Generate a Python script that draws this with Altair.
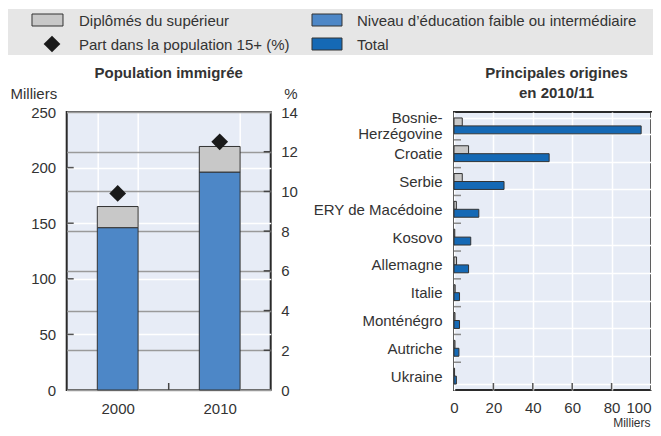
import altair as alt
import pandas as pd

# ---------------- data ----------------
years = ["2000", "2010"]
low_edu = [146, 196]          # Niveau d'éducation faible ou intermédiaire (milliers)
tertiary = [19, 23]           # Diplômés du supérieur (milliers, empilé au-dessus)
share_pct = [9.9, 12.5]       # Part dans la population 15+ (%)

countries = ["Bosnie-Herzégovine", "Croatie", "Serbie", "ERY de Macédoine", "Kosovo",
             "Allemagne", "Italie", "Monténégro", "Autriche", "Ukraine"]
tertiary_c = [4.2, 7.4, 4.2, 1.2, 0.4, 1.3, 0.6, 0.5, 0.5, 0.3]
total_c = [95, 48.3, 25.4, 12.6, 8.5, 7.4, 2.8, 2.8, 2.5, 1.2]

milliers_ticks = [0, 50, 100, 150, 200, 250]
pct_ticks = [0, 2, 4, 6, 8, 10, 12, 14]
right_x_ticks = [0, 20, 40, 60, 80, 100]

leg_tert = "Diplômés du supérieur"
leg_share = "Part dans la population 15+ (%)"
leg_low = "Niveau d’éducation faible ou intermédiaire"
leg_total = "Total"

# ---------------- style ----------------
FONT = "Liberation Sans"
TXT = "#333333"
C_TERT = "#C8C8C8"
C_LOW = "#4D87C7"
C_TOT = "#1569B5"
PLOT_BG = "#E7ECF6"
LEG_BG = "#E6E6E6"
W, H = 204, 278          # left panel plot
WR = 197                 # right panel plot width
PAD_L, PAD_T = 58.7, 104
SVG_W, SVG_H = 645, 420
SPACING = 454 - 66.7 - W

one = pd.DataFrame({"k": [0]})


def txt(s, x, y, align="left", bold=False, size=15):
    return alt.Chart(one).mark_text(text=s, align=align, baseline="middle", font=FONT,
                                    fontSize=size, fontWeight="bold" if bold else "normal",
                                    color=TXT).encode(x=alt.value(x), y=alt.value(y))


def box(x1, x2, y1, y2, color, stroke="#333333", sw=1):
    return alt.Chart(one).mark_rect(fill=color, stroke=stroke, strokeWidth=sw).encode(
        x=alt.value(x1), x2=alt.value(x2), y=alt.value(y1), y2=alt.value(y2))


# ---------------- left panel ----------------
rows = []
for i, yr in enumerate(years):
    rows.append({"year": yr, "series": "low", "value": low_edu[i], "ord": 0})
    rows.append({"year": yr, "series": "tert", "value": tertiary[i], "ord": 1})
bars_df = pd.DataFrame(rows)

x_axis_l = alt.Axis(title=None, labelAngle=0, labelPadding=11, ticks=False, domain=False,
                    grid=True, gridColor="white", gridWidth=1.5, tickBand="extent")
x_scale_l = alt.Scale(paddingInner=0.6, paddingOuter=0.3)

y_axis_m = alt.Axis(values=milliers_ticks, title="Milliers", titleAngle=0, titleX=-56.7,
                    titleY=-19, titleAlign="left", titleBaseline="middle",
                    grid=True, gridColor="white", gridWidth=1.5, ticks=False,
                    domain=False, labelPadding=11)
y_scale_m = alt.Scale(domain=[0, 250], nice=False)

y_axis_p = alt.Axis(orient="right", values=pct_ticks, title="%", titleAngle=0, titleX=13,
                    titleY=-19, titleAlign="left", titleBaseline="middle",
                    grid=True, gridColor="#9A9A9A", gridWidth=1.5, ticks=False,
                    domain=False, labelPadding=10)
y_scale_p = alt.Scale(domain=[0, 14], nice=False)

bars = alt.Chart(bars_df).mark_bar(stroke="#333333", strokeWidth=1).encode(
    x=alt.X("year:N", sort=years, scale=x_scale_l, axis=x_axis_l),
    y=alt.Y("value:Q", stack="zero", scale=y_scale_m, axis=y_axis_m),
    color=alt.Color("series:N", scale=alt.Scale(domain=["low", "tert"], range=[C_LOW, C_TERT]),
                    legend=None),
    order=alt.Order("ord:Q"),
)

left_ticks = alt.Chart(pd.DataFrame({"value": milliers_ticks[1:-1]})).mark_rule(
    color="#555555", strokeWidth=1.5).encode(
    y=alt.Y("value:Q", scale=y_scale_m, axis=y_axis_m), x=alt.value(0), x2=alt.value(7))

layerA = alt.layer(bars, left_ticks)

diam_df = pd.DataFrame({"year": years, "pct": share_pct})
diamonds = alt.Chart(diam_df).mark_point(shape="diamond", filled=True, size=280,
                                         color="#1a1a1a", opacity=1).encode(
    x=alt.X("year:N", sort=years, scale=x_scale_l, axis=x_axis_l),
    y=alt.Y("pct:Q", scale=y_scale_p, axis=y_axis_p),
)
right_ticks = alt.Chart(pd.DataFrame({"pct": pct_ticks[1:-1]})).mark_rule(
    color="#444444", strokeWidth=1.5).encode(
    y=alt.Y("pct:Q", scale=y_scale_p, axis=y_axis_p), x=alt.value(W - 7), x2=alt.value(W))

layerB = alt.layer(right_ticks, diamonds)

mid_tick = alt.Chart(one).mark_rule(color="#444444", strokeWidth=1.5).encode(
    x=alt.value(W / 2), y=alt.value(H - 7), y2=alt.value(H))

# legend (drawn in pixel space relative to the left plot)
legend_layers = [
    box(-58.7, SVG_W - PAD_L, -103, -57, LEG_BG, stroke=LEG_BG, sw=0),
    box(-34.7, -3.7, -98, -86, C_TERT),
    box(245.3, 275.3, -98, -86, C_LOW),
    box(245.3, 275.3, -74, -62, C_TOT),
    alt.Chart(one).mark_point(shape="diamond", filled=True, size=280, color="#1a1a1a",
                              opacity=1).encode(x=alt.value(-14.7), y=alt.value(-68)),
    txt(leg_tert, 12.3, -91),
    txt(leg_share, 12.3, -67.5),
    txt(leg_low, 290.3, -91),
    txt(leg_total, 290.3, -67.5),
]

left_title = txt("Population immigrée", W / 2, -39.3, align="center", bold=True)

left = alt.layer(layerA, layerB, mid_tick, *legend_layers, left_title).resolve_scale(
    y="independent").properties(width=W, height=H)

# ---------------- right panel ----------------
rrows = []
for i, c in enumerate(countries):
    rrows.append({"country": c, "s": "tert_c", "v": tertiary_c[i]})
    rrows.append({"country": c, "s": "total_c", "v": total_c[i]})
rb_df = pd.DataFrame(rrows)

y_axis_c = alt.Axis(title=None, ticks=False, domain=False, grid=True, gridColor="white",
                    gridWidth=1.5, tickBand="extent", labelPadding=12, labelLimit=250,
                    labelLineHeight=16,
                    labelOffset={"condition": {"test": "datum.value == 'Bosnie-Herzégovine'",
                                               "value": -8}, "value": 0},
                    labelExpr="datum.label == 'Bosnie-Herzégovine' ? ['Bosnie-', 'Herzégovine'] : datum.label")
y_scale_c = alt.Scale(paddingInner=0.4286, paddingOuter=0.2143)

x_axis_r = alt.Axis(values=right_x_ticks, title="Milliers", titleX=WR - 1, titleY=32,
                    titleAlign="right", titleBaseline="middle", titleFontSize=12,
                    grid=True, gridColor="white", gridWidth=1.5, ticks=False, domain=False,
                    labelPadding=10,
                    labelAlign={"condition": {"test": "datum.value == 100", "value": "right"},
                                "value": "center"})
x_scale_r = alt.Scale(domain=[0, 100], nice=False)

bars_r = alt.Chart(rb_df).mark_bar(stroke="#333333", strokeWidth=1).encode(
    x=alt.X("v:Q", scale=x_scale_r, axis=x_axis_r),
    y=alt.Y("country:N", sort=countries, scale=y_scale_c, axis=y_axis_c),
    yOffset=alt.YOffset("s:N", sort=["tert_c", "total_c"],
                        scale=alt.Scale(paddingInner=0, paddingOuter=0)),
    color=alt.Color("s:N", scale=alt.Scale(domain=["tert_c", "total_c"], range=[C_TERT, C_TOT]),
                    legend=None),
)

# small inside ticks at the band boundaries (end of band + half the gap)
band_ticks = alt.Chart(pd.DataFrame({"country": countries[:-1]})).mark_rule(
    color="#8A8A8A", strokeWidth=1.5, yOffset=6).encode(
    y=alt.Y("country:N", sort=countries, bandPosition=1, scale=y_scale_c, axis=y_axis_c),
    x=alt.value(0), x2=alt.value(7))

bottom_ticks = alt.Chart(pd.DataFrame({"v": right_x_ticks[1:-1]})).mark_rule(
    color="#555555", strokeWidth=1.5).encode(
    x=alt.X("v:Q", scale=x_scale_r, axis=x_axis_r), y=alt.value(H - 7), y2=alt.value(H))

right = alt.layer(
    bars_r, band_ticks, bottom_ticks,
    txt("Principales origines", WR / 2 + 4, -39.3, align="center", bold=True),
    txt("en 2010/11", WR / 2 + 4, -19.3, align="center", bold=True),
).properties(width=WR, height=H)

chart = alt.hconcat(left, right, spacing=SPACING, bounds="flush").resolve_scale(
    color="independent"
).properties(
    autosize=alt.AutoSizeParams(type="none"),
    padding={"left": PAD_L, "top": PAD_T, "right": SVG_W - PAD_L, "bottom": SVG_H - PAD_T},
).configure(font=FONT).configure_view(
    fill=PLOT_BG, stroke="#2a2a2a", strokeWidth=2
).configure_axis(
    labelFont=FONT, labelFontSize=15, labelColor=TXT,
    titleFont=FONT, titleFontSize=15, titleFontWeight="normal", titleColor=TXT
)

chart.save("out.html", embed_options={"renderer": "svg", "actions": False})
